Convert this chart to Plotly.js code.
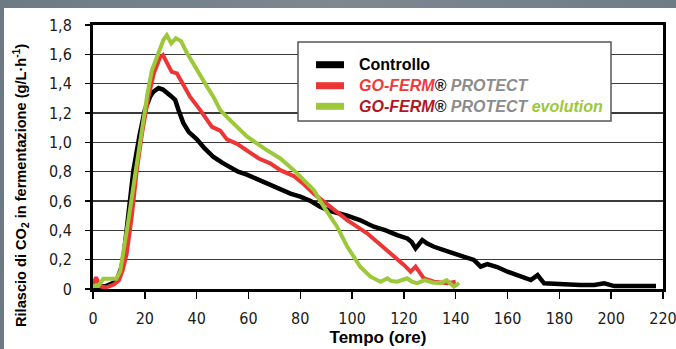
<!DOCTYPE html>
<html>
<head>
<meta charset="utf-8">
<script src="https://cdn.plot.ly/plotly-3.0.1.min.js"></script>
<style>
  html, body { margin: 0; padding: 0; width: 676px; height: 349px; overflow: hidden;
    background: linear-gradient(90deg, #6d7a84 0%, #7d8891 50%, #6f7c86 100%); }
  #chart { position: absolute; left: 4px; top: 8px; width: 672px; height: 341px; background: #fff; }
</style>
</head>
<body>
<div id="chart"></div>
<script>
// ---- Data ----
const seriesNames = ["Controllo", "GO-FERM® PROTECT", "GO-FERM® PROTECT evolution"];

const controlloX = [0, 5, 9, 11, 12, 13, 15.6, 18, 20, 22, 23.3, 25.3, 27, 29.8, 31.7, 33, 34.9, 37, 40.1, 43, 46.5, 50, 53, 56, 59.4, 62, 65.9, 70, 73.6, 76.2, 80, 84, 87.8, 92, 98.1, 103, 108.4, 113, 117.4, 119, 121.3, 123, 124.5, 127.1, 129, 131.6, 135, 139.3, 143, 147, 149.6, 152.2, 156, 160, 165, 169, 171.6, 174.1, 178, 183.2, 188, 193.5, 197.3, 201.2, 210, 217.3];
const controlloY = [0.01, 0.02, 0.05, 0.15, 0.25, 0.4, 0.81, 1.05, 1.22, 1.31, 1.345, 1.37, 1.36, 1.32, 1.29, 1.22, 1.13, 1.07, 1.02, 0.96, 0.90, 0.86, 0.83, 0.80, 0.78, 0.76, 0.73, 0.70, 0.675, 0.65, 0.63, 0.60, 0.56, 0.53, 0.50, 0.47, 0.425, 0.40, 0.368, 0.36, 0.345, 0.32, 0.277, 0.334, 0.31, 0.288, 0.27, 0.243, 0.22, 0.198, 0.152, 0.17, 0.15, 0.118, 0.09, 0.061, 0.095, 0.039, 0.035, 0.027, 0.027, 0.027, 0.039, 0.02, 0.02, 0.02];

const protectX = [0, 1.2, 2.5, 5, 8, 10, 11.5, 13, 15, 16.9, 19, 21.4, 23.5, 25.9, 27, 28.5, 30.4, 32.4, 35, 37.5, 41.4, 45.9, 49.1, 51.7, 55.6, 60.7, 64, 68.4, 72.3, 77.5, 81, 85.2, 91.6, 98.1, 105.8, 113.6, 120, 122.6, 124.5, 127.7, 131.6, 136.8, 140];
const protectY = [0.03, 0.08, 0.02, 0.01, 0.03, 0.06, 0.13, 0.24, 0.5, 0.81, 1.07, 1.31, 1.47, 1.58, 1.595, 1.55, 1.48, 1.47, 1.39, 1.31, 1.22, 1.106, 1.08, 1.02, 0.99, 0.925, 0.89, 0.857, 0.81, 0.77, 0.72, 0.65, 0.56, 0.47, 0.38, 0.266, 0.164, 0.118, 0.152, 0.073, 0.05, 0.04, 0.05];

const evolutionX = [0, 2, 4, 9, 10.5, 11.7, 13.5, 15.6, 17.5, 19.5, 21, 22.7, 24.5, 25.9, 27.2, 28.5, 30.2, 32, 34, 36.2, 40.1, 44, 46.5, 49.1, 53, 59.4, 65.9, 71, 72.3, 77.5, 81, 85.2, 89.1, 94.2, 98.1, 103.2, 107.1, 111, 113.6, 115, 117.4, 121.3, 123, 125.2, 128, 131, 134.2, 136.5, 139.3, 141.3];
const evolutionY = [0.02, 0.02, 0.07, 0.07, 0.12, 0.24, 0.45, 0.70, 0.93, 1.15, 1.33, 1.49, 1.58, 1.65, 1.70, 1.73, 1.675, 1.71, 1.69, 1.61, 1.49, 1.38, 1.31, 1.22, 1.15, 1.04, 0.96, 0.90, 0.89, 0.81, 0.75, 0.675, 0.56, 0.425, 0.29, 0.15, 0.084, 0.05, 0.073, 0.055, 0.05, 0.073, 0.05, 0.04, 0.06, 0.045, 0.04, 0.06, 0.016, 0.04];

const xTickVals = [0, 20, 40, 60, 80, 100, 120, 140, 160, 180, 200, 220];
const xTickText = ["0", "20", "40", "60", "80", "100", "120", "140", "160", "180", "200", "220"];
const yTickVals = [0, 0.2, 0.4, 0.6, 0.8, 1.0, 1.2, 1.4, 1.6, 1.8];
const yTickText = ["0", "0,2", "0,4", "0,6", "0,8", "1,0", "1,2", "1,4", "1,6", "1,8"];

const xTitle = "Tempo (ore)";
const yTitle = "Rilascio di CO<sub>2</sub> in fermentazione (g/L·h<sup>-1</sup>)";

// ---- Styles ----
const colBlack = "#000000", colRed = "#ee3535", colGreen = "#9cc83a";
const tickFont = { family: "'Liberation Sans Narrow', 'DejaVu Sans Condensed', sans-serif", size: 16, color: "#1a1a1a" };
const titleFamily = "'Liberation Sans', Arial, sans-serif";

const traces = [
  { x: controlloX, y: controlloY, name: seriesNames[0], mode: "lines", line: { color: colBlack, width: 4.5 }, hoverinfo: "skip" },
  { x: protectX, y: protectY, name: seriesNames[1], mode: "lines", line: { color: colRed, width: 4 }, hoverinfo: "skip" },
  { x: evolutionX, y: evolutionY, name: seriesNames[2], mode: "lines", line: { color: colGreen, width: 4 }, hoverinfo: "skip" }
];

// Legend built manually (paper coords)
const px = v => (v - 93) / 570;
const py = v => (289 - v) / 264;
const rowsY = [64.7, 85.7, 106.3];
const legendColors = [colBlack, colRed, colGreen];
const shapes = [
  { type: "rect", xref: "paper", yref: "paper", x0: px(298), x1: px(611), y0: py(121), y1: py(42),
    fillcolor: "#ffffff", line: { color: "#555", width: 1.5 }, layer: "above" }
];
rowsY.forEach((ry, i) => {
  shapes.push({ type: "line", xref: "paper", yref: "paper", x0: px(316), x1: px(344), y0: py(ry), y1: py(ry),
    line: { color: legendColors[i], width: 7 }, layer: "above" });
});
const legendTexts = [
  "<b>Controllo</b>",
  "<b><i><span style='color:#ee3b3b'>GO-FERM</span><span style='color:#222'>®</span> <span style='color:#8c8c8c'>PROTECT</span></i></b>",
  "<b><i><span style='color:#b1181f'>GO-FERM</span><span style='color:#222'>®</span> <span style='color:#8c8c8c'>PROTECT</span> <span style='color:#9cc83a'>evolution</span></i></b>"
];
const annotations = legendTexts.map((t, i) => ({
  xref: "paper", yref: "paper", x: px(357), y: py(rowsY[i]), xanchor: "left", yanchor: "middle",
  text: t, showarrow: false, font: { family: titleFamily, size: 16, color: "#000" }
}));
// Y axis title as rotated annotation for precise placement
annotations.push({
  xref: "paper", yref: "paper", x: px(21), y: py(186), xanchor: "center", yanchor: "middle",
  textangle: -90, text: "<b>" + yTitle + "</b>", showarrow: false,
  font: { family: titleFamily, size: 14.6, color: "#000" }
});

const layout = {
  width: 672, height: 341,
  margin: { l: 89, r: 13, t: 17, b: 60 },
  paper_bgcolor: "#ffffff", plot_bgcolor: "#ffffff",
  showlegend: false,
  xaxis: {
    range: [0, 220], tickvals: xTickVals, ticktext: xTickText,
    ticks: "outside", ticklen: 7, tickwidth: 1.5, tickcolor: "#000",
    showline: true, linecolor: "#000", linewidth: 3, mirror: true,
    showgrid: false, zeroline: false, tickfont: tickFont, ticklabelstandoff: 6,
    ticklabeloverflow: "allow",
    title: { text: "<b>" + xTitle + "</b>", font: { family: titleFamily, size: 17, color: "#000" }, standoff: 4 }
  },
  yaxis: {
    range: [0, 1.8], tickvals: yTickVals, ticktext: yTickText,
    ticks: "outside", ticklen: 5, tickwidth: 1.5, tickcolor: "#000",
    showline: true, linecolor: "#000", linewidth: 3, mirror: true,
    showgrid: true, gridcolor: "#3a3a3a", gridwidth: 1.5, zeroline: false,
    tickfont: tickFont, ticklabelstandoff: 10, ticklabeloverflow: "allow"
  },
  shapes: shapes,
  annotations: annotations
};

Plotly.newPlot("chart", traces, layout, { staticPlot: true, displayModeBar: false });
</script>
</body>
</html>
